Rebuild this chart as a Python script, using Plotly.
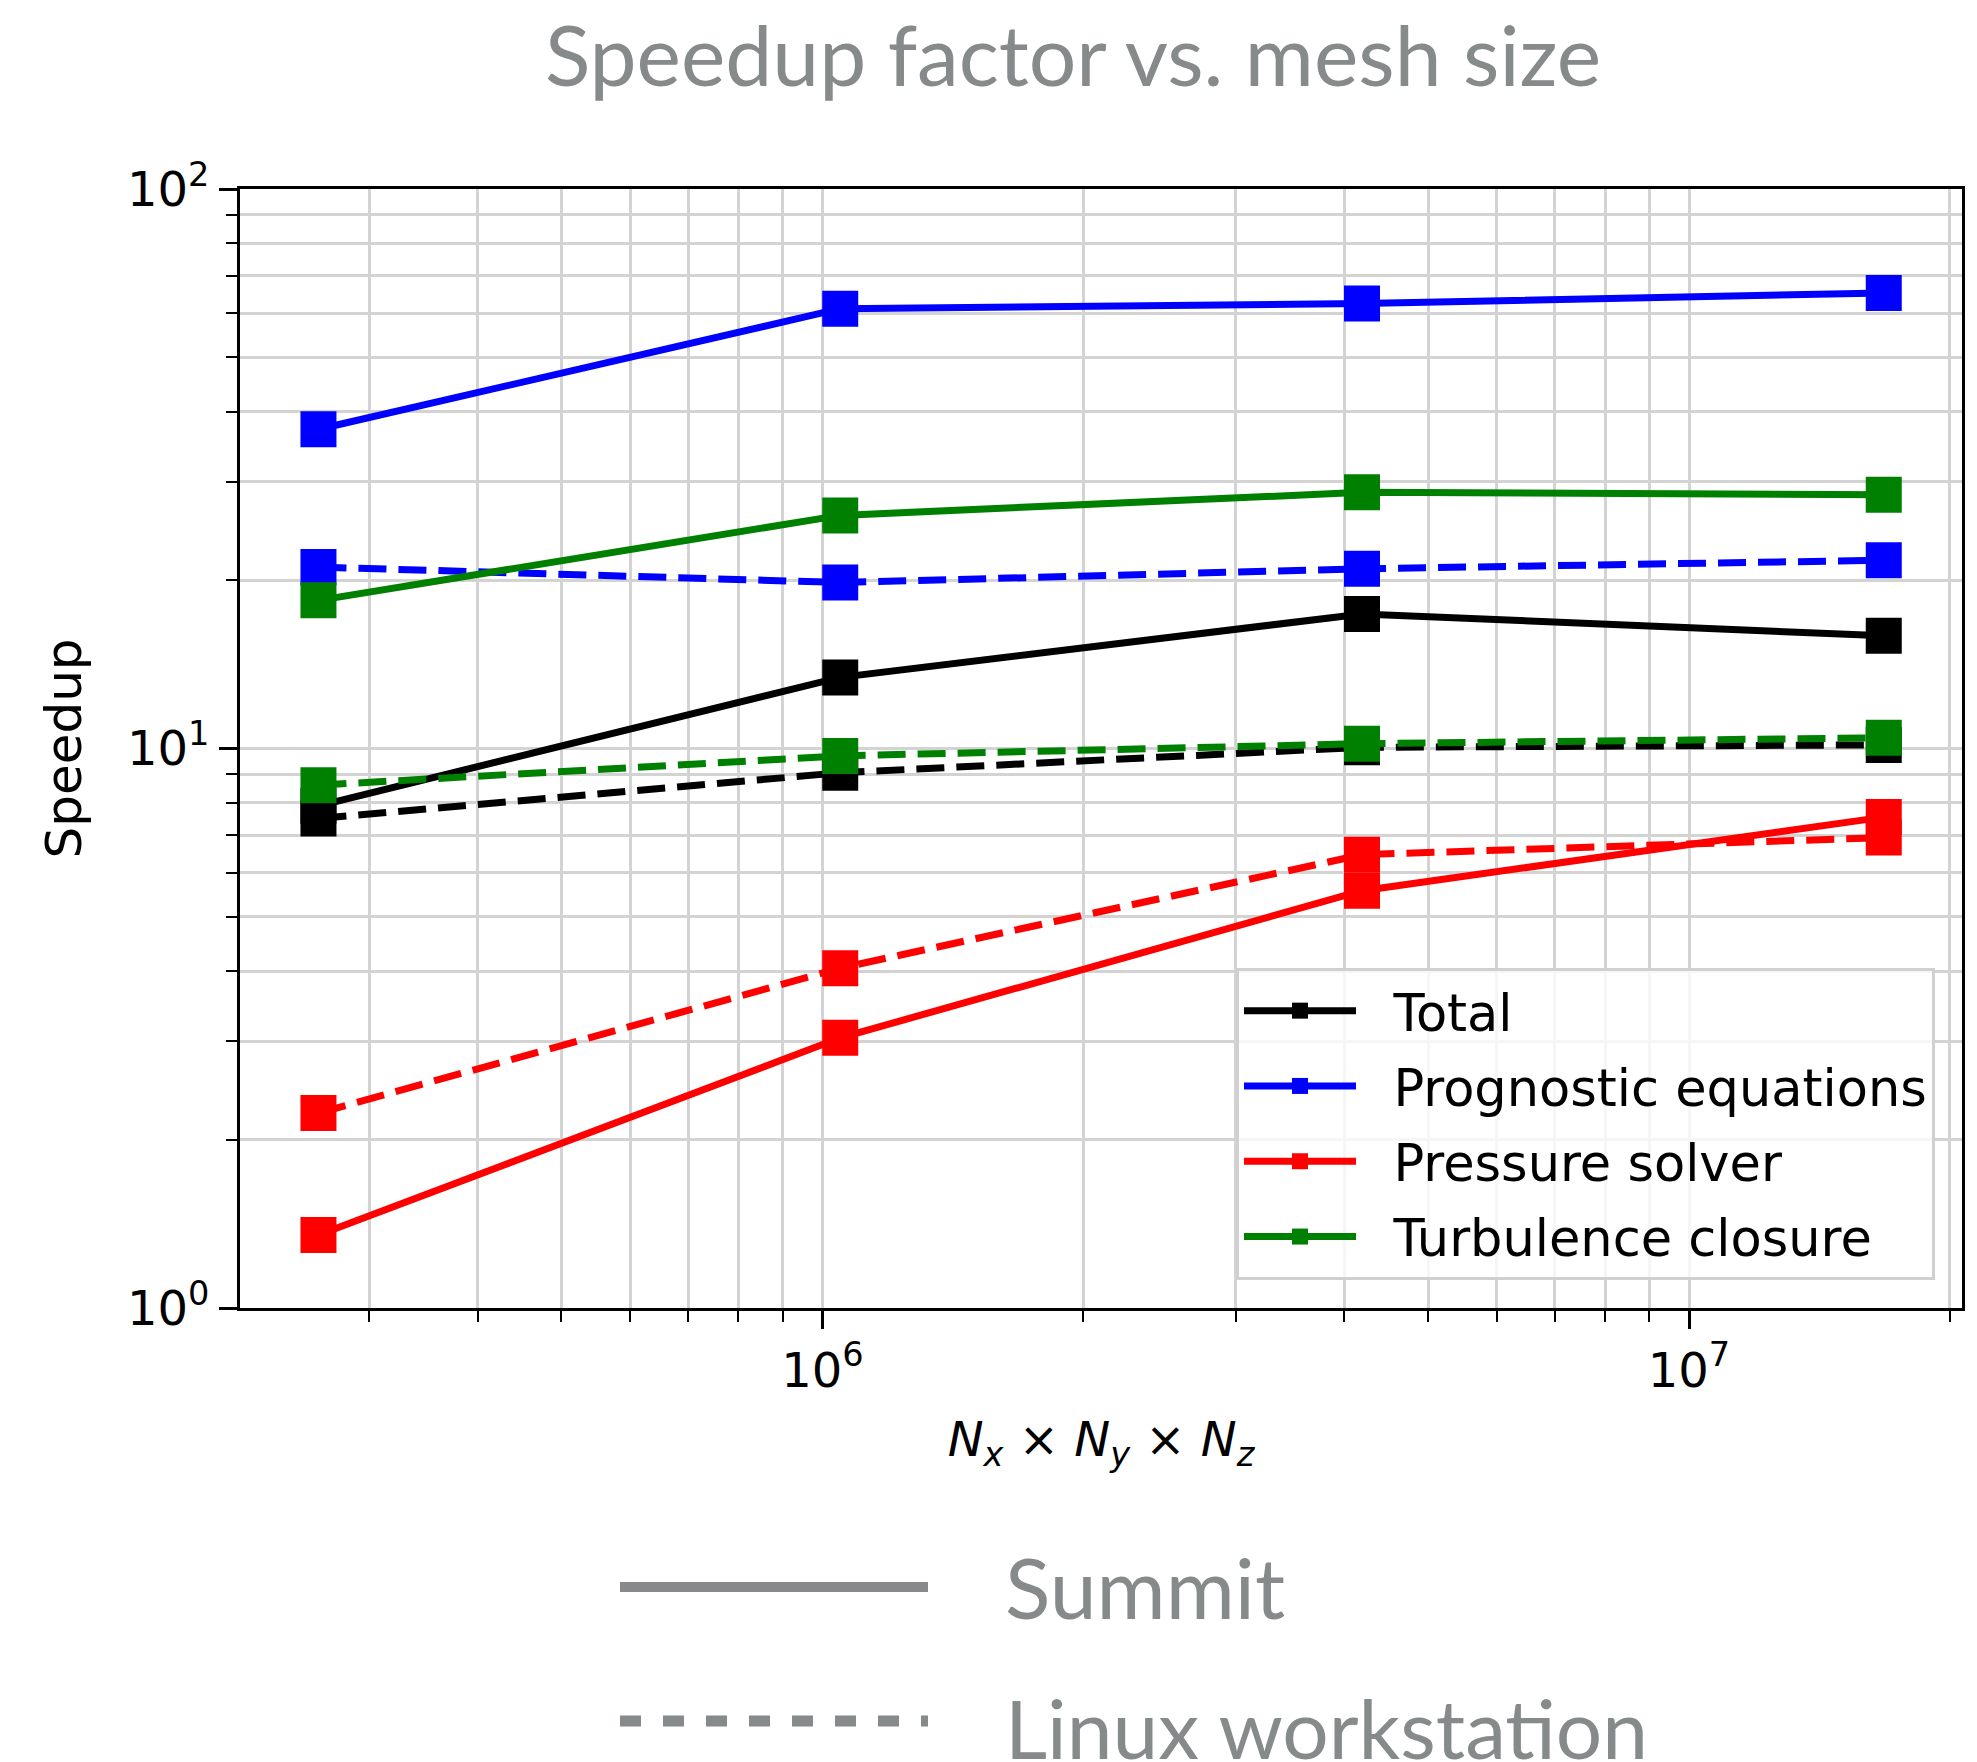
import plotly.graph_objects as go

# ---- data ----
mesh_size = [262144, 1048576, 4194304, 16777216]
components = ["Total", "Prognostic equations", "Pressure solver", "Turbulence closure"]
colors = ["#000000", "#0000ff", "#ff0000", "#008000"]

total_summit = [7.9, 13.4, 17.4, 15.9]
total_linux = [7.5, 9.05, 10.05, 10.15]
prog_summit = [37.2, 61.1, 62.4, 65.2]
prog_linux = [21.1, 19.8, 20.95, 21.7]
press_summit = [1.35, 3.04, 5.57, 7.54]
press_linux = [2.23, 4.05, 6.46, 6.93]
turb_summit = [18.4, 26.1, 28.7, 28.4]
turb_linux = [8.6, 9.7, 10.2, 10.45]

summit = [total_summit, prog_summit, press_summit, turb_summit]
linux = [total_linux, prog_linux, press_linux, turb_linux]

y_tickvals = [1, 10, 100]
y_ticktext = ["10<sup>0</sup>", "10<sup>1</sup>", "10<sup>2</sup>"]
x_tickvals = [1e6, 1e7]
x_ticktext = ["10<sup>6</sup>", "10<sup>7</sup>"]
y_minor = [m * d for d in (1, 10) for m in range(2, 10)]
x_minor = [m * d for d in (1e5, 1e6, 1e7) for m in range(2, 10)]

# ---- layout geometry (pixels) ----
W, H = 1977, 1762
L, R, T, B = 240, 1962, 189, 1308
PW, PH = R - L, B - T


def px(x):
    return (x - L) / PW


def py(y):
    return (B - y) / PH


NB = "\u00a0\u00a0"

fig = go.Figure()
for name, col, ys, yl in zip(components, colors, summit, linux):
    fig.add_trace(go.Scatter(
        x=mesh_size, y=ys, mode="lines+markers", name=NB + name,
        legendgroup=name,
        line=dict(color=col, width=7),
        marker=dict(symbol="square", size=36, color=col),
    ))
    fig.add_trace(go.Scatter(
        x=mesh_size, y=yl, mode="lines+markers", name=name + " (Linux)",
        showlegend=False, legendgroup=name,
        line=dict(color=col, width=7, dash="28px,12px"),
        marker=dict(symbol="square", size=36, color=col),
    ))

tick_font = dict(family="DejaVu Sans", size=48, color="black")
gridcol = "#d3d3d3"

fig.update_xaxes(
    type="log", range=[5.328, 7.315],
    tickvals=x_tickvals, ticktext=x_ticktext, tickfont=tick_font,
    ticks="outside", ticklen=18, tickwidth=3, tickcolor="black",
    showgrid=True, gridcolor=gridcol, gridwidth=3,
    minor=dict(tickvals=x_minor, ticks="outside", ticklen=11, tickwidth=2,
               tickcolor="black", showgrid=True, gridcolor=gridcol, gridwidth=3),
    showline=True, linecolor="black", linewidth=3, mirror=True,
    zeroline=False,
    title=dict(text="<i>N</i><sub><i>x</i></sub> × <i>N</i><sub><i>y</i></sub> × <i>N</i><sub><i>z</i></sub>",
               font=dict(family="DejaVu Sans", size=48, color="black"), standoff=26),
)
fig.update_yaxes(
    type="log", range=[0, 2],
    tickvals=y_tickvals, ticktext=y_ticktext, tickfont=tick_font,
    ticks="outside", ticklen=18, tickwidth=3, tickcolor="black",
    showgrid=True, gridcolor=gridcol, gridwidth=3,
    minor=dict(tickvals=y_minor, ticks="outside", ticklen=11, tickwidth=2,
               tickcolor="black", showgrid=True, gridcolor=gridcol, gridwidth=3),
    showline=True, linecolor="black", linewidth=3, mirror=True,
    zeroline=False,
    title=dict(text="Speedup", font=dict(family="DejaVu Sans", size=50, color="black"), standoff=30),
)

gray = "#868a8a"
fig.update_layout(
    width=W, height=H,
    margin=dict(l=L, r=W - R, t=T, b=H - B, autoexpand=False),
    paper_bgcolor="white", plot_bgcolor="white",
    title=dict(text="Speedup factor vs. mesh size", x=1073 / W, xanchor="center",
               xref="container",
               y=1 - 57 / H, yanchor="middle", yref="container",
               font=dict(family="Lato", size=84, color=gray)),
    legend=dict(
        x=px(1935), y=py(1280), xanchor="right", yanchor="bottom",
        bgcolor="rgba(255,255,255,0.8)", bordercolor="#d0d0d0", borderwidth=3,
        font=dict(family="DejaVu Sans", size=51, color="black"),
        traceorder="grouped", tracegroupgap=6, itemwidth=112,
    ),
    showlegend=True,
)

# bottom style legend (Summit / Linux workstation)
fig.add_shape(type="line", xref="paper", yref="paper",
              x0=px(620), x1=px(928), y0=py(1587), y1=py(1587),
              line=dict(color=gray, width=10))
fig.add_shape(type="line", xref="paper", yref="paper",
              x0=px(620), x1=px(928), y0=py(1721), y1=py(1721),
              line=dict(color=gray, width=11, dash="21px,22px"))
fig.add_annotation(text="Summit", xref="paper", yref="paper", x=px(1003), y=py(1586),
                   xanchor="left", yanchor="middle", showarrow=False,
                   font=dict(family="Lato", size=84, color=gray))
fig.add_annotation(text="Linux workstation", xref="paper", yref="paper", x=px(1003), y=py(1727),
                   xanchor="left", yanchor="middle", showarrow=False,
                   font=dict(family="Lato", size=82, color=gray))

fig.write_html("out.html")
